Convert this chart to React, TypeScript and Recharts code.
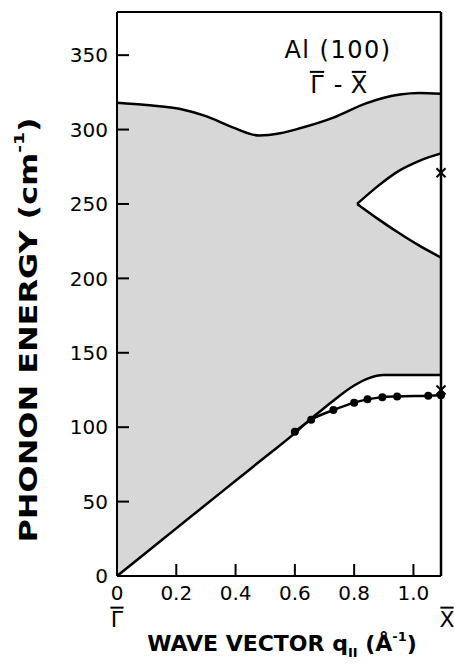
import React from 'react';
import { ComposedChart, Area, Line, Scatter, XAxis, YAxis, ReferenceLine } from 'recharts';

// Upper boundary of the bulk phonon band (shaded region)
const upperQ = [0, 0.1, 0.21, 0.3, 0.39, 0.48, 0.55, 0.62, 0.73, 0.84, 0.955, 1.02, 1.093];
const upperE = [318, 316.5, 314, 309, 301.5, 296, 297.5, 301, 308, 317.6, 323.5, 324.5, 324];
// Lower boundary of the bulk band
const lowerQ = [0, 0.1, 0.2, 0.3, 0.4, 0.5, 0.6, 0.65, 0.7, 0.75, 0.8, 0.85, 0.9, 1.0, 1.093];
const lowerE = [0, 16, 32, 48, 64, 80, 96, 105, 113, 121, 128, 133, 135, 135, 135];
// Gap in the band near X
const gapQ = [0.81, 0.88, 0.955, 1.02, 1.093];
const gapUpperE = [250, 262, 272.7, 279, 284];
const gapLowerE = [250, 240, 230, 222, 214];
// Measured surface phonon (dots)
const dotQ = [0.6, 0.655, 0.73, 0.8, 0.845, 0.895, 0.945, 1.05, 1.093];
const dotE = [97, 105, 111.5, 116.5, 118.7, 120.2, 120.7, 121.2, 121.5];
// Calculated points at X (crosses)
const crossQ = [1.093, 1.093];
const crossE = [271, 125];

const xTicks = [0, 0.2, 0.4, 0.6, 0.8, 1.0, 1.093];
const yTicks = [0, 50, 100, 150, 200, 250, 300, 350];
const X_MAX = 1.093;
const Y_MAX = 379;

const FONT = 'DejaVu Sans';

const upperData = upperQ.map((q, i) => ({ q, e: upperE[i] }));
const lowerData = lowerQ.map((q, i) => ({ q, e: lowerE[i] }));
const gapData = gapQ.map((q, i) => ({ q, lo: gapLowerE[i], hi: gapUpperE[i] }));
const dotData = dotQ.map((q, i) => ({ q, e: dotE[i] }));
const crossData = crossQ.map((q, i) => ({ q, e: crossE[i] }));

// letter with a bar above it
const Barred = ({ x, y, ch, size }: { x: number; y: number; ch: string; size: number }) => (
  <g>
    <text x={x} y={y} textAnchor="middle" fontSize={size} fontFamily={FONT} fill="#000">
      {ch}
    </text>
    <line x1={x - size * 0.3} x2={x + size * 0.3} y1={y - size * 0.88} y2={y - size * 0.88} stroke="#000" strokeWidth={2} />
  </g>
);

const XTick = (props: any) => {
  const { x, y, payload } = props;
  const v = payload.value as number;
  if (v > 1.05) {
    return <Barred x={x + 6} y={y + 42} ch="X" size={22} />;
  }
  const label = v === 0 ? '0' : v.toFixed(1);
  return (
    <g>
      <text x={x} y={y + 15} textAnchor="middle" fontSize={20} fontFamily={FONT} fill="#000">
        {label}
      </text>
      {v === 0 && <Barred x={x} y={y + 42} ch="Γ" size={22} />}
    </g>
  );
};

const YTick = (props: any) => {
  const { x, y, payload } = props;
  return (
    <text x={x} y={y} dy="0.36em" textAnchor="end" fontSize={20} fontFamily={FONT} fill="#000">
      {String(payload.value)}
    </text>
  );
};

const Dot = (props: any) => <circle cx={props.cx} cy={props.cy} r={4} fill="#000" />;
const Cross = (props: any) => {
  const { cx, cy } = props;
  const s = 4.5;
  return (
    <g stroke="#000" strokeWidth={2}>
      <line x1={cx - s} y1={cy - s} x2={cx + s} y2={cy + s} />
      <line x1={cx - s} y1={cy + s} x2={cx + s} y2={cy - s} />
    </g>
  );
};

export default function App() {
  return (
    <div style={{ position: 'absolute', left: 0, top: 0, width: 454, height: 664, background: '#fff' }}>
      <ComposedChart
        width={454}
        height={664}
        margin={{ top: 12, right: 13, bottom: 58, left: 57 }}
      >
        <Area data={upperData} dataKey="e" type="monotone" fill="#d7d7d7" fillOpacity={1} stroke="none" isAnimationActive={false} />
        <Area data={lowerData} dataKey="e" type="monotone" fill="#ffffff" fillOpacity={1} stroke="none" isAnimationActive={false} />
        <Area data={gapData} dataKey={(d: any) => [d.lo, d.hi]} type="monotone" fill="#ffffff" fillOpacity={1} stroke="none" isAnimationActive={false} />
        <Line data={upperData} dataKey="e" type="monotone" stroke="#000" strokeWidth={2.5} dot={false} isAnimationActive={false} />
        <Line data={lowerData} dataKey="e" type="monotone" stroke="#000" strokeWidth={2.5} dot={false} isAnimationActive={false} />
        <Line data={gapData} dataKey="hi" type="monotone" stroke="#000" strokeWidth={2.5} dot={false} isAnimationActive={false} />
        <Line data={gapData} dataKey="lo" type="monotone" stroke="#000" strokeWidth={2.5} dot={false} isAnimationActive={false} />
        <Line data={dotData} dataKey="e" type="monotone" stroke="#000" strokeWidth={2.5} dot={false} isAnimationActive={false} />
        <ReferenceLine y={Y_MAX} stroke="#000" strokeWidth={2} />
        <ReferenceLine x={X_MAX} stroke="#000" strokeWidth={2.5} />
        <Scatter data={dotData} dataKey="e" shape={<Dot />} isAnimationActive={false} />
        <Scatter data={crossData} dataKey="e" shape={<Cross />} isAnimationActive={false} />
        <XAxis
          type="number"
          dataKey="q"
          domain={[0, X_MAX]}
          ticks={xTicks}
          interval={0}
          height={30}
          tickSize={-12}
          tickMargin={21}
          tick={<XTick />}
          axisLine={{ stroke: '#000', strokeWidth: 2 }}
          tickLine={{ stroke: '#000', strokeWidth: 2 }}
        />
        <YAxis
          type="number"
          dataKey="e"
          domain={[0, Y_MAX]}
          ticks={yTicks}
          interval={0}
          width={60}
          tickSize={-12}
          tickMargin={21}
          tick={<YTick />}
          axisLine={{ stroke: '#000', strokeWidth: 2 }}
          tickLine={{ stroke: '#000', strokeWidth: 2 }}
        />
        <text x={338} y={58} textAnchor="middle" fontSize={24} letterSpacing={1.5} fontFamily={FONT} fill="#000">Al (100)</text>
        <Barred x={317} y={93} ch="Γ" size={24} />
        <text x={338} y={93} textAnchor="middle" fontSize={24} fontFamily={FONT} fill="#000">-</text>
        <Barred x={359} y={93} ch="X" size={24} />
        <text
          x={282}
          y={651}
          textAnchor="middle"
          fontSize={22}
          fontWeight="bold"
          fontFamily={FONT}
          fill="#000"
        >
          WAVE VECTOR q<tspan fontSize={13} dy={6}>II</tspan>
          <tspan dy={-6}> (Å</tspan>
          <tspan fontSize={13} dy={-10}>-1</tspan>
          <tspan dy={10}>)</tspan>
        </text>
        <text
          x={29}
          y={330}
          transform="rotate(-90 29 330)"
          textAnchor="middle"
          dominantBaseline="central"
          fontSize={24}
          fontWeight="bold"
          fontFamily={FONT}
          fill="#000"
          textLength={425}
          lengthAdjust="spacingAndGlyphs"
        >
          PHONON ENERGY (cm<tspan fontSize={14} dy={-10}>-1</tspan>
          <tspan dy={10}>)</tspan>
        </text>
      </ComposedChart>
    </div>
  );
}
